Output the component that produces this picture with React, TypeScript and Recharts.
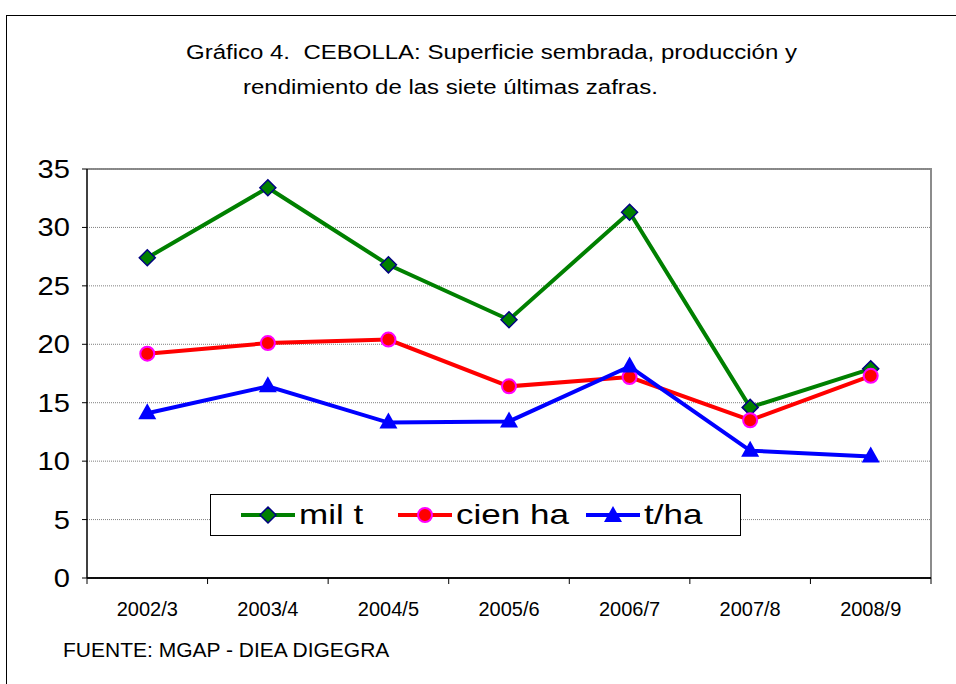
import React from 'react';
import { LineChart, Line, XAxis, YAxis, CartesianGrid, ReferenceLine } from 'recharts';

const zafras = ['2002/3', '2003/4', '2004/5', '2005/6', '2006/7', '2007/8', '2008/9'];
const milT = [27.4, 33.4, 26.8, 22.1, 31.3, 14.6, 17.9];
const cienHa = [19.2, 20.1, 20.4, 16.4, 17.2, 13.5, 17.3];
const tHa = [14.1, 16.4, 13.3, 13.4, 18.1, 10.9, 10.4];
const yTicks = [0, 5, 10, 15, 20, 25, 30, 35];

const data = zafras.map((z, i) => ({
  zafra: z,
  milT: milT[i],
  cienHa: cienHa[i],
  tHa: tHa[i],
}));

const FONT = '"Liberation Sans", Arial, sans-serif';
const W = 956;
const H = 684;
const margin = { top: 169, right: 25, left: 27, bottom: 76 };
const plotW = W - margin.left - 60 - margin.right;
const band = plotW / zafras.length;

const Diamond = (props: any) => {
  const { cx, cy } = props;
  if (cx == null || cy == null) return null;
  const s = 8;
  return (
    <path
      d={`M${cx},${cy - s}L${cx + s},${cy}L${cx},${cy + s}L${cx - s},${cy}Z`}
      fill="#008000"
      stroke="#000080"
      strokeWidth={1.5}
    />
  );
};

const Dot = (props: any) => {
  const { cx, cy } = props;
  if (cx == null || cy == null) return null;
  return <circle cx={cx} cy={cy} r={7} fill="#ff0000" stroke="#ff00ff" strokeWidth={2} />;
};

const Tri = (props: any) => {
  const { cx, cy } = props;
  if (cx == null || cy == null) return null;
  return <path d={`M${cx},${cy - 10}L${cx + 9},${cy + 6}L${cx - 9},${cy + 6}Z`} fill="#0000ff" />;
};

const XTick = (props: any) => {
  const { x, y, payload, index } = props;
  const last = index === zafras.length - 1;
  return (
    <g>
      <line x1={x - band / 2} x2={x - band / 2} y1={y - 8} y2={y - 2} stroke="#000" />
      {last && <line x1={x + band / 2} x2={x + band / 2} y1={y - 8} y2={y - 2} stroke="#000" />}
      <text x={x} y={y + 30} textAnchor="middle" fontSize={20} fill="#000" fontFamily={FONT}>
        {payload.value}
      </text>
    </g>
  );
};

const YTick = (props: any) => {
  const { x, y, payload } = props;
  return (
    <text
      transform={`translate(${x},${y + 9}) scale(1.12,1)`}
      textAnchor="end"
      fontSize={26}
      fill="#000"
      fontFamily={FONT}
    >
      {payload.value}
    </text>
  );
};

const legendItems = [
  { label: 'mil t', color: '#008000', marker: 'diamond', left: 30 },
  { label: 'cien ha', color: '#ff0000', marker: 'circle', left: 187 },
  { label: 't/ha', color: '#0000ff', marker: 'tri', left: 375 },
];

const LegendBox = () => (
  <div
    style={{
      position: 'absolute',
      left: 210,
      top: 494,
      width: 531,
      height: 42,
      border: '1.5px solid #000',
      background: '#fff',
      boxSizing: 'border-box',
      fontFamily: FONT,
      fontSize: 28,
    }}
  >
    {legendItems.map((it) => (
      <div
        key={it.label}
        style={{ position: 'absolute', left: it.left, top: 3, display: 'flex', alignItems: 'center', height: 34 }}
      >
        <svg width={54} height={24} style={{ marginRight: 4 }}>
          <line x1={0} x2={54} y1={12} y2={12} stroke={it.color} strokeWidth={4} />
          {it.marker === 'diamond' && <Diamond cx={27} cy={12} />}
          {it.marker === 'circle' && <Dot cx={27} cy={12} />}
          {it.marker === 'tri' && <Tri cx={27} cy={13} />}
        </svg>
        <span style={{ display: 'inline-block', transform: 'scaleX(1.25)', transformOrigin: 'left center', whiteSpace: 'nowrap' }}>
          {it.label}
        </span>
      </div>
    ))}
  </div>
);

const titleStyle: React.CSSProperties = {
  position: 'absolute',
  fontFamily: FONT,
  fontSize: 20,
  whiteSpace: 'nowrap',
  transform: 'scaleX(1.2)',
  transformOrigin: 'left top',
};

export default function App() {
  return (
    <div style={{ position: 'absolute', left: 0, top: 0, width: W, height: H, background: '#fff', overflow: 'hidden' }}>
      <div
        style={{
          position: 'absolute',
          left: 6,
          top: 15,
          width: 1000,
          height: 700,
          borderLeft: '1.5px solid #000',
          borderTop: '1.5px solid #000',
        }}
      />
      <div style={{ ...titleStyle, left: 186, top: 41 }}>
        Gráfico 4.&nbsp; CEBOLLA: Superficie sembrada, producción y
      </div>
      <div style={{ ...titleStyle, left: 243, top: 76 }}>rendimiento de las siete últimas zafras.</div>
      <div style={{ position: 'absolute', left: 63, top: 638, fontFamily: FONT, fontSize: 21, whiteSpace: 'nowrap' }}>
        FUENTE: MGAP - DIEA DIGEGRA
      </div>
      <div
        style={{
          position: 'absolute',
          left: 87,
          top: 168,
          width: 845,
          height: 410,
          borderTop: '2px solid #8c8c8c',
          borderRight: '2px solid #8c8c8c',
          boxSizing: 'border-box',
        }}
      />
      <div style={{ position: 'absolute', left: 0, top: 0 }}>
        <LineChart width={W} height={H} data={data} margin={margin}>
          <CartesianGrid vertical={false} stroke="#7f7f7f" strokeDasharray="1 1" />
          <XAxis
            dataKey="zafra"
            axisLine={{ stroke: '#000', strokeWidth: 1.5 }}
            tickLine={false}
            tick={<XTick />}
            height={30}
            interval={0}
            padding={{ left: band / 2, right: band / 2 }}
          />
          <YAxis
            domain={[0, 35]}
            ticks={yTicks}
            width={60}
            axisLine={{ stroke: '#000', strokeWidth: 1.5 }}
            tickLine={{ stroke: '#000' }}
            tickSize={5}
            tickMargin={12}
            tick={<YTick />}
          />
          <ReferenceLine y={0} stroke="#000" strokeWidth={1.5} />
          <Line dataKey="milT" stroke="#008000" strokeWidth={4} dot={<Diamond />} isAnimationActive={false} />
          <Line dataKey="cienHa" stroke="#ff0000" strokeWidth={4} dot={<Dot />} isAnimationActive={false} />
          <Line dataKey="tHa" stroke="#0000ff" strokeWidth={4} dot={<Tri />} isAnimationActive={false} />
        </LineChart>
      </div>
      <LegendBox />
    </div>
  );
}
